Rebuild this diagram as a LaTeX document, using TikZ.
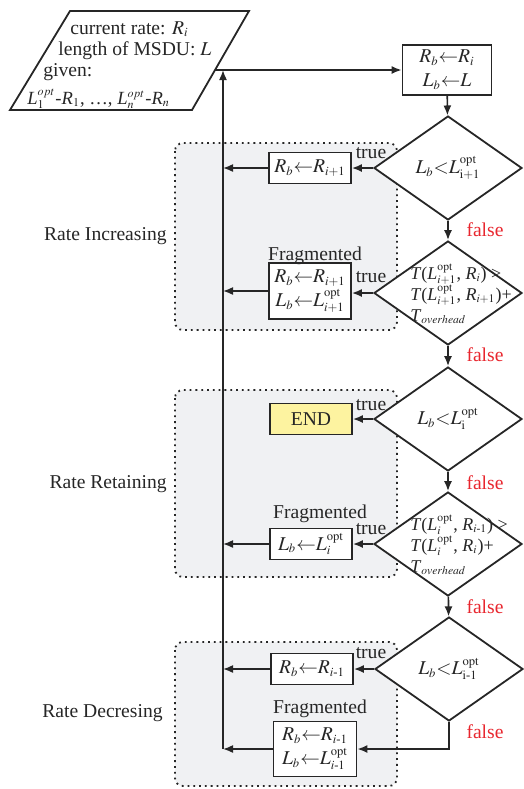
\documentclass[tikz,border=0pt]{standalone}
\usepackage{amsmath}
\usepackage{mathptmx}
\usepackage[no-math]{fontspec}
\setmainfont{Liberation Serif}
\usepackage{xcolor}
\usetikzlibrary{positioning}
\usetikzlibrary{shapes.geometric}
\usetikzlibrary{arrows.meta}
\definecolor{falsered}{HTML}{E8262E}
\definecolor{endyellow}{HTML}{FDF3A0}
\definecolor{regiongray}{HTML}{F0F1F3}
\definecolor{inkgray}{HTML}{262626}
\DeclareMathSizes{9.8}{9.8}{6.3}{5}
\DeclareMathSizes{9.3}{9.3}{6}{5}
\DeclareMathSizes{9}{9}{5.8}{5}
\newcommand{\tightlines}{\fontsize{9}{10.5}\selectfont}
\newcommand{\opt}{\mathrm{opt}}
\newcommand{\vi}[1]{\textit{#1}}

\begin{document}
\begin{tikzpicture}[x=0.5pt, y=-0.5pt,
    every node/.style={font=\fontsize{9.8}{11}\selectfont, text=inkgray},
    box/.style={rectangle, draw=inkgray, line width=0.9pt, fill=white, inner sep=1pt, minimum width=41pt, minimum height=15.5pt, align=center, font=\fontsize{9.8}{12}\selectfont},
    decision/.style={diamond, draw=inkgray, line width=0.9pt, fill=white, inner sep=0pt, minimum width=74pt, minimum height=52pt},
    condtext/.style={align=left, inner sep=0pt, anchor=west, font=\tightlines},
    arrow/.style={-{Latex[length=5pt,width=4pt]}, line width=0.8pt, draw=inkgray},
    region/.style={draw=inkgray, dotted, line width=0.9pt, rounded corners=4pt, fill=regiongray},
    truelab/.style={inner sep=0pt},
    falselab/.style={text=falsered, inner sep=0pt},
    fraglab/.style={inner sep=0pt},
    phaselab/.style={anchor=east, inner sep=0pt},
    inputline/.style={anchor=base west, inner sep=0pt}
]
    \useasboundingbox (0,0) rectangle (524,789);

    % Phase regions
    \draw[region] (175,143) rectangle (397,330);
    \draw[region] (175,390) rectangle (397,577);
    \draw[region] (175,642) rectangle (397,786);
    \node[phaselab] (pInc) at (167,236) {Rate Increasing};
    \node[phaselab] (pRet) at (167,484) {Rate Retaining};
    \node[phaselab] (pDec) at (163,713) {Rate Decresing};

    % Input
    \draw[line width=0.9pt, draw=inkgray] (70,11) -- (249,11) -- (192,110) -- (10,110) -- cycle;
    \node[inputline] (in1) at (70,34) {current rate: $R_i$};
    \node[inputline] (in2) at (58,55) {length of MSDU: $L$};
    \node[inputline] (in3) at (43,76) {given:};
    \node[inputline, font=\fontsize{9.3}{11}\selectfont] (in4) at (27,104) {\vi{L}$_1^{opt}$-\vi{R}$_1$, …, \vi{L}$_n^{opt}$-\vi{R}$_n$};
    \coordinate (inR) at (215,70);

    % Feedback line
    \coordinate (busTop) at (223,70);
    \coordinate (busBot) at (223,749);

    % Initialisation
    \node[box, minimum width=44.5pt, minimum height=25pt] (b0) at (447,70) {$R_b{\leftarrow}R_i$\\$L_b{\leftarrow}L$};

    % Decisions
    \node[decision] (d1) at (448,168) {$L_b{<}L^{\opt}_{\mathrm{i+1}}$};
    \node[decision] (d2) at (448,293) {};
    \node[condtext] (c2) at (410,294) {\vi{T}(\vi{L}$^{\opt}_{i+1}$, \vi{R}$_{i}$) >\\\vi{T}(\vi{L}$^{\opt}_{i+1}$, \vi{R}$_{i+1}$)+\\\vi{T}$_{overhead}$};
    \node[decision] (d3) at (448,419) {$L_b{<}L^{\opt}_{\mathrm{i}}$};
    \node[decision] (d4) at (448,544) {};
    \node[condtext] (c4) at (410,545) {\vi{T}(\vi{L}$^{\opt}_{i}$, \vi{R}$_{i\text{-}1}$) >\\\vi{T}(\vi{L}$^{\opt}_{i}$, \vi{R}$_{i}$)+\\\vi{T}$_{overhead}$};
    \node[decision] (d5) at (449,669) {$L_b{<}L^{\opt}_{\mathrm{i\text{-}1}}$};

    % Actions
    \node[box] (b1) at (310,168) {$R_b{\leftarrow}R_{i+1}$};
    \node[box, minimum height=28pt] (b2) at (310,291) {$R_b{\leftarrow}R_{i+1}$\\$L_b{\leftarrow}L^{\opt}_{i+1}$};
    \node[box, fill=endyellow] (e3) at (311,419) {END};
    \node[box] (b4) at (311,544) {$L_b{\leftarrow}L^{\opt}_{i}$};
    \node[box] (b5) at (312,669) {$R_b{\leftarrow}R_{i\text{-}1}$};
    \node[box, minimum width=41.5pt, minimum height=27.5pt] (b6) at (315,749) {$R_b{\leftarrow}R_{i\text{-}1}$\\$L_b{\leftarrow}L^{\opt}_{i\text{-}1}$};

    \node[fraglab] (fr2) at (315,256) {Fragmented};
    \node[fraglab] (fr4) at (320,514) {Fragmented};
    \node[fraglab] (fr6) at (320,709) {Fragmented};

    % Main flow
    \draw[arrow] (inR) -- (b0.west);
    \draw[arrow] (b0) -- (d1);
    \draw[arrow] (d1) -- (d2);
    \draw[arrow] (d2) -- (d3);
    \draw[arrow] (d3) -- (d4);
    \draw[arrow] (d4) -- (d5);
    \draw[arrow] (d5.south) -- (d5.south |- b6.east) -- (b6.east);

    % True branches
    \draw[arrow] (d1.west) -- (b1.east);
    \draw[arrow] (d2.west) -- (d2.west -| b2.east);
    \draw[arrow] (d3.west) -- (e3.east);
    \draw[arrow] (d4.west) -- (b4.east);
    \draw[arrow] (d5.west) -- (b5.east);

    % Back to the start
    \draw[arrow] (busBot) -- (busTop);
    \draw[arrow] (b1.west) -- (b1.west -| busTop);
    \draw[arrow] (b2.west) -- (b2.west -| busTop);
    \draw[arrow] (b4.west) -- (b4.west -| busTop);
    \draw[arrow] (b5.west) -- (b5.west -| busTop);
    \draw[arrow] (b6.west) -- (b6.west -| busTop);

    % Branch labels
    \node[truelab] (t1) at (371,153) {true};
    \node[truelab] (t2) at (371,277) {true};
    \node[truelab] (t3) at (371,405) {true};
    \node[truelab] (t4) at (371,529) {true};
    \node[truelab] (t5) at (371,653) {true};
    \node[falselab] (n1) at (485,230) {false};
    \node[falselab] (n2) at (485,355) {false};
    \node[falselab] (n3) at (485,483) {false};
    \node[falselab] (n4) at (485,607) {false};
    \node[falselab] (n5) at (485,732) {false};
\end{tikzpicture}
\end{document}
